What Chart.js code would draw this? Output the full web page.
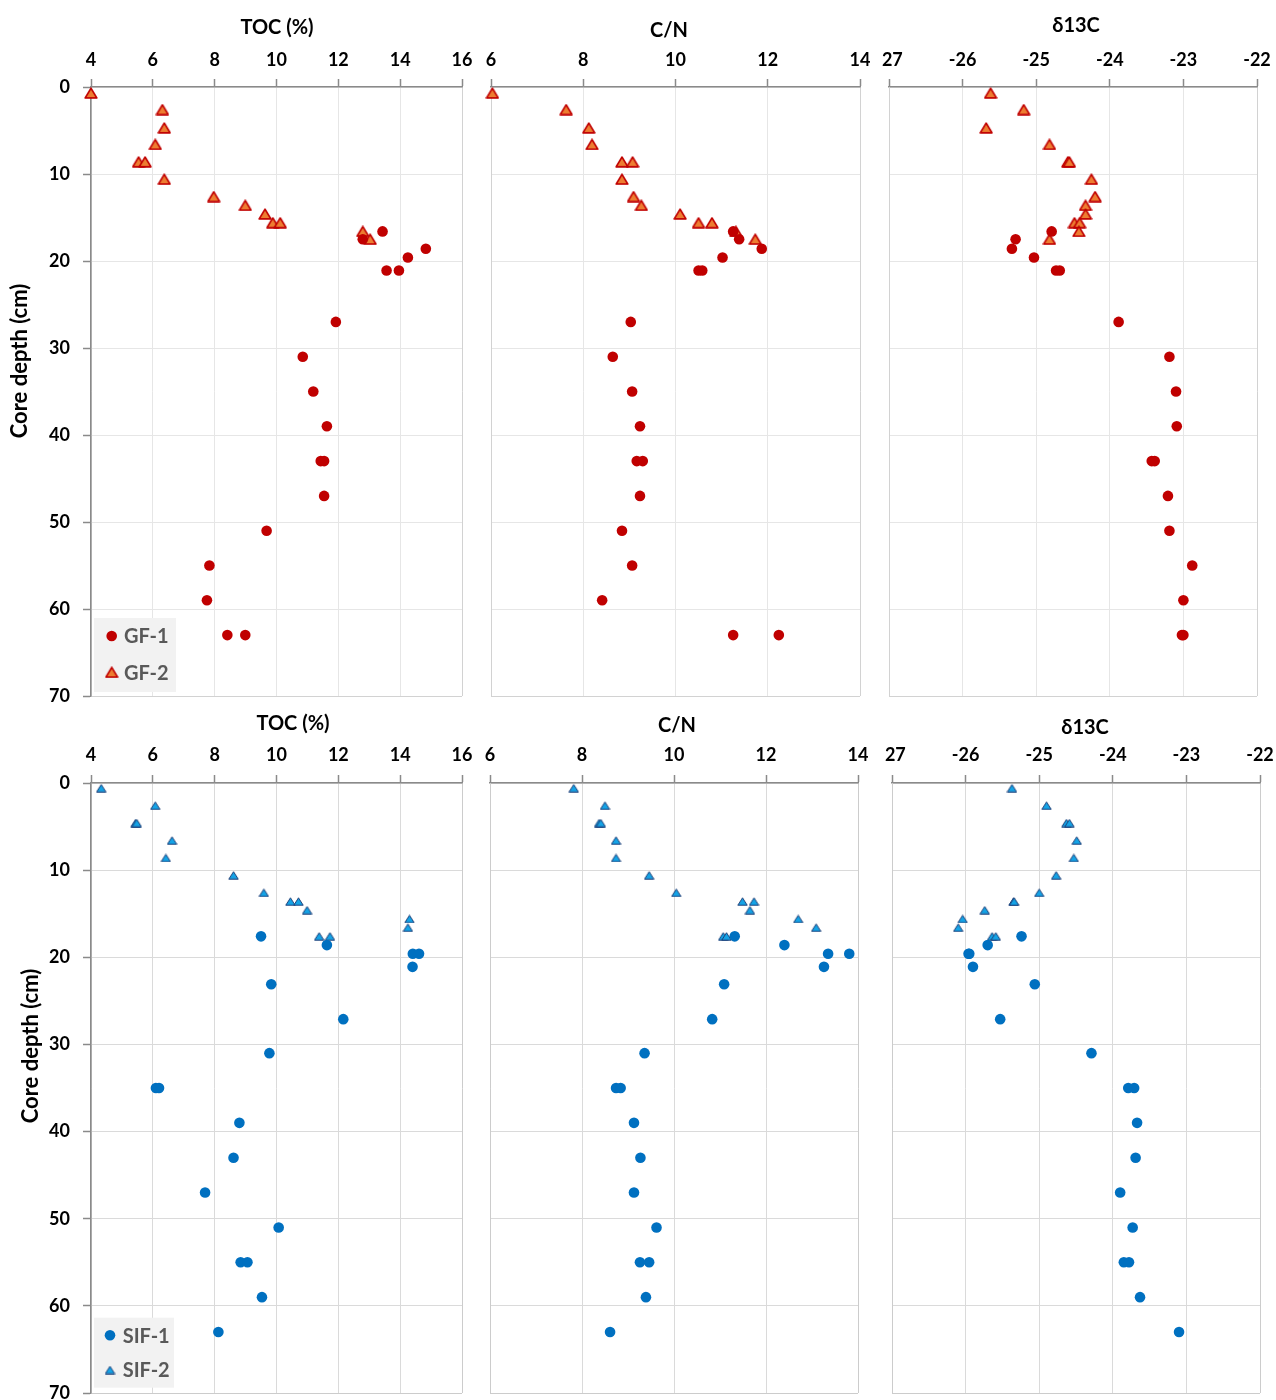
<!DOCTYPE html>
<html>
<head>
<meta charset="utf-8">
<script src="https://cdn.jsdelivr.net/npm/chart.js@4.4.1/dist/chart.umd.min.js"></script>
<style>
  html, body { margin: 0; padding: 0; background: #fff; }
  #board { position: relative; width: 1276px; height: 1400px; overflow: hidden; background: #fff; }
  .cell { position: absolute; overflow: hidden; }
  .cell canvas { position: absolute; left: 0; top: 0; }
</style>
</head>
<body>
<div id="board"></div>
<script>
// ---- Core GF (top row) ----
const gf1Depth = [16.6, 17.5, 18.6, 19.6, 21.1, 21.1, 27, 31, 35, 39, 43, 43, 47, 51, 55, 59, 63, 63];
const gf1Toc   = [13.43, 12.79, 14.83, 14.25, 13.56, 13.96, 11.92, 10.85, 11.19, 11.63, 11.43, 11.54, 11.54, 9.68, 7.83, 7.75, 8.41, 8.99];
const gf1CN    = [11.25, 11.38, 11.87, 11.02, 10.50, 10.58, 9.03, 8.64, 9.06, 9.23, 9.16, 9.29, 9.23, 8.84, 9.06, 8.41, 11.25, 12.24];
const gf1D13C  = [-24.79, -25.28, -25.33, -25.03, -24.73, -24.68, -23.88, -23.19, -23.10, -23.09, -23.43, -23.39, -23.21, -23.19, -22.88, -23.00, -23.02, -23.00];

const gf2Depth = [0.7, 2.6, 4.7, 6.6, 8.6, 8.6, 10.6, 12.6, 13.6, 14.6, 15.6, 15.6, 16.6, 17.5];
const gf2Toc   = [4.0, 6.31, 6.37, 6.08, 5.54, 5.75, 6.37, 7.97, 8.99, 9.63, 9.88, 10.12, 12.79, 13.03];
const gf2CN    = [6.03, 7.63, 8.12, 8.19, 8.84, 9.07, 8.84, 9.09, 9.26, 10.10, 10.50, 10.79, 11.31, 11.73];
const gf2D13C  = [-25.62, -25.17, -25.68, -24.82, -24.57, -24.55, -24.25, -24.20, -24.33, -24.33, -24.48, -24.41, -24.42, -24.82];

// ---- Core SIF (bottom row) ----
const sif1Depth = [17.6, 18.6, 19.6, 19.6, 21.1, 23.1, 27.1, 31, 35, 35, 39, 43, 47, 51, 55, 55, 59, 63];
const sif1Toc   = [9.50, 11.63, 14.41, 14.61, 14.40, 9.83, 12.16, 9.77, 6.10, 6.20, 8.80, 8.61, 7.69, 10.07, 8.84, 9.06, 9.53, 8.12];
const sif1CN    = [11.32, 12.40, 13.35, 13.81, 13.26, 11.09, 10.83, 9.36, 8.74, 8.84, 9.13, 9.27, 9.13, 9.62, 9.26, 9.46, 9.39, 8.61];
const sif1D13C  = [-25.24, -25.70, -25.96, -25.95, -25.90, -25.06, -25.53, -24.29, -23.79, -23.71, -23.67, -23.69, -23.90, -23.73, -23.85, -23.78, -23.63, -23.10];

const sif2Depth = [0.6, 2.6, 4.6, 4.6, 6.6, 8.6, 10.6, 12.6, 13.6, 13.6, 14.6, 15.6, 16.6, 17.6, 17.6];
const sif2Toc   = [4.33, 6.08, 5.44, 5.48, 6.62, 6.42, 8.61, 9.59, 10.45, 10.71, 10.99, 14.30, 14.25, 11.38, 11.73];
const sif2CN    = [7.82, 8.50, 8.37, 8.41, 8.74, 8.74, 9.46, 10.05, 11.49, 11.74, 11.65, 12.70, 13.09, 11.07, 11.14];
const sif2D13C  = [-25.37, -24.90, -24.63, -24.59, -24.49, -24.53, -24.77, -25.00, -25.35, -25.34, -25.74, -26.04, -26.10, -25.64, -25.59];

// ---- Axis ticks ----
const tocTicks   = [4, 6, 8, 10, 12, 14, 16];
const cnTicks    = [6, 8, 10, 12, 14];
const d13cTicks  = [-27, -26, -25, -24, -23, -22];
const depthTicks = [0, 10, 20, 30, 40, 50, 60, 70];

const tocTitle = 'TOC (%)';
const cnTitle = 'C/N';
const d13cTitle = 'δ13C';
const depthTitle = 'Core depth (cm)';

const FONT = "Lato, 'Open Sans', 'DejaVu Sans', sans-serif";
Chart.defaults.font.family = FONT;

// Flat-bottomed triangle marker, centred on its bounding box
function triangleMarker(w, h, fill, stroke, lw) {
  const c = document.createElement('canvas');
  c.width = w; c.height = h;
  const g = c.getContext('2d');
  const i = lw / 2 + 0.3;
  g.beginPath();
  g.moveTo(w / 2, i);
  g.lineTo(w - i, h - i);
  g.lineTo(i, h - i);
  g.closePath();
  g.fillStyle = fill;
  g.fill();
  g.lineJoin = 'round';
  g.lineWidth = lw;
  g.strokeStyle = stroke;
  g.stroke();
  return c;
}

const gfTri  = triangleMarker(14, 12, '#ed7d31', '#c00000', 1.7);
const sifTri = triangleMarker(11, 9, '#14a3e6', '#1f3f77', 1);

function circleSet(label, xs, ys, color) {
  return {
    label,
    data: xs.map((x, i) => ({ x, y: ys[i] })),
    pointStyle: 'circle',
    pointRadius: 5.3,
    pointBackgroundColor: color,
    pointBorderWidth: 0,
    borderWidth: 0,
    showLine: false,
    clip: false
  };
}
function triangleSet(label, xs, ys, img) {
  return {
    label,
    data: xs.map((x, i) => ({ x, y: ys[i] })),
    pointStyle: img,
    pointRadius: img.width / 2,
    pointBorderWidth: 0,
    borderWidth: 0,
    showLine: false,
    clip: false
  };
}

// Headings, rotated depth title and the small legend box
const panelDecor = {
  id: 'panelDecor',
  afterDraw(chart, args, o) {
    const { ctx, chartArea: a } = chart;
    ctx.save();
    if (o.heading) {
      ctx.font = `bold 20px ${FONT}`;
      ctx.fillStyle = '#000';
      ctx.textAlign = 'center';
      ctx.textBaseline = 'alphabetic';
      ctx.fillText(o.heading.text, (a.left + a.right) / 2 + o.heading.dx, a.top + o.heading.dy);
    }
    if (o.yTitle) {
      ctx.save();
      ctx.font = `bold 22px ${FONT}`;
      ctx.fillStyle = '#000';
      ctx.textAlign = 'center';
      ctx.textBaseline = 'alphabetic';
      ctx.translate(a.left + o.yTitle.dx, (a.top + a.bottom) / 2 + o.yTitle.dy);
      ctx.rotate(-Math.PI / 2);
      ctx.fillText(o.yTitle.text, 0, 0);
      ctx.restore();
    }
    if (o.legend) {
      const L = o.legend;
      const bx = a.left + L.left, by = a.bottom - L.bottom - L.height;
      ctx.fillStyle = '#f2f2f2';
      ctx.fillRect(bx, by, L.width, L.height);
      chart.data.datasets.forEach((ds, i) => {
        const cy = by + L.rows[i];
        ctx.fillStyle = ds.pointBackgroundColor || '#000';
        Chart.helpers.drawPoint(ctx, { pointStyle: ds.pointStyle, radius: ds.pointRadius, borderWidth: 0, rotation: 0 }, bx + L.markerX, cy);
        ctx.font = `bold 20px ${FONT}`;
        ctx.fillStyle = '#595959';
        ctx.textAlign = 'left';
        ctx.textBaseline = 'middle';
        ctx.fillText(ds.label, bx + L.textX, cy + 1);
      });
    }
    ctx.restore();
  }
};

const board = document.getElementById('board');

function buildPanel(p) {
  const [cx, cy, cw, ch] = p.cell;
  const [L, T, R, B] = p.area;
  const cell = document.createElement('div');
  cell.className = 'cell';
  Object.assign(cell.style, { left: cx + 'px', top: cy + 'px', width: cw + 'px', height: ch + 'px' });
  const cv = document.createElement('canvas');
  cv.width = cw; cv.height = ch;
  cell.appendChild(cv);
  board.appendChild(cell);

  const withDepth = !!p.depthAxis;
  const yW = withDepth ? L - cx : 0;
  const axisGray = '#8a8a8a';
  const xMin = p.xTicks[0], xMax = p.xTicks[p.xTicks.length - 1];
  const yMin = depthTicks[0], yMax = depthTicks[depthTicks.length - 1];

  const plugins = { legend: { display: false }, tooltip: { enabled: false },
    panelDecor: { heading: p.heading, yTitle: p.yTitle, legend: p.legend } };

  new Chart(cv, {
    type: 'scatter',
    data: { datasets: p.datasets },
    options: {
      responsive: false,
      animation: false,
      devicePixelRatio: 1,
      events: [],
      layout: { padding: { left: L - cx - yW, top: 0, right: cx + cw - R, bottom: cy + ch - B } },
      plugins,
      scales: {
        x: {
          type: 'linear',
          position: 'top',
          min: xMin, max: xMax,
          afterBuildTicks: s => { s.ticks = p.xTicks.map(v => ({ value: v })); },
          afterFit: s => { s.height = T - cy; s.paddingLeft = 0; s.paddingRight = 0; },
          grid: {
            color: c => (c.tick && (c.tick.value === xMax || c.tick.value === xMin)) ? p.frame : p.grid,
            lineWidth: 1,
            drawTicks: true,
            tickLength: 8,
            tickColor: axisGray,
            tickWidth: 1.5
          },
          border: { color: axisGray, width: 1.5 },
          ticks: { padding: p.xPad, color: '#000', font: { size: 18, weight: 'bold' }, maxRotation: 0, autoSkip: false }
        },
        y: {
          type: 'linear',
          reverse: true,
          min: yMin, max: yMax,
          afterBuildTicks: s => { s.ticks = depthTicks.map(v => ({ value: v })); },
          afterFit: s => { s.width = yW; s.paddingTop = 0; s.paddingBottom = 0; },
          grid: {
            color: c => (c.tick && c.tick.value === yMax) ? p.frame : p.grid,
            lineWidth: 1,
            drawTicks: withDepth,
            tickLength: 8,
            tickColor: axisGray,
            tickWidth: 1.5
          },
          border: { color: withDepth ? axisGray : p.frame, width: withDepth ? 1.5 : 1 },
          ticks: { display: withDepth, padding: 13, color: '#000', font: { size: 18, weight: 'bold' }, autoSkip: false }
        }
      }
    },
    plugins: [panelDecor]
  });
}

const topGrid = '#e6e6e6', topFrame = '#d2d2d2';
const botGrid = '#dadada', botFrame = '#cccccc';
const gfLegend  = { left: 3, bottom: 4, width: 82, height: 74, rows: [18, 54.3], markerX: 17.7, textX: 30 };
const sifLegend = { left: 3, bottom: 5.3, width: 80, height: 70, rows: [17.6, 52.3], markerX: 16, textX: 28.7 };

const panels = [
  { cell: [0, 0, 476, 705], area: [91, 87, 462, 696], xTicks: tocTicks, depthAxis: true, grid: topGrid, frame: topFrame, xPad: 8,
    heading: { text: tocTitle, dx: 0.5, dy: -53 }, yTitle: { text: depthTitle, dx: -64, dy: -30.5 }, legend: gfLegend,
    datasets: [circleSet('GF-1', gf1Toc, gf1Depth, '#c00000'), triangleSet('GF-2', gf2Toc, gf2Depth, gfTri)] },
  { cell: [476, 0, 406, 705], area: [491, 87, 860, 696], xTicks: cnTicks, grid: topGrid, frame: topFrame, xPad: 8,
    heading: { text: cnTitle, dx: -6.5, dy: -50 },
    datasets: [circleSet('GF-1', gf1CN, gf1Depth, '#c00000'), triangleSet('GF-2', gf2CN, gf2Depth, gfTri)] },
  { cell: [882, 0, 394, 705], area: [889, 87, 1257, 696], xTicks: d13cTicks, grid: topGrid, frame: topFrame, xPad: 8,
    heading: { text: d13cTitle, dx: 3, dy: -55 },
    datasets: [circleSet('GF-1', gf1D13C, gf1Depth, '#c00000'), triangleSet('GF-2', gf2D13C, gf2Depth, gfTri)] },

  { cell: [0, 705, 476, 695], area: [91, 783, 462, 1393], xTicks: tocTicks, depthAxis: true, grid: botGrid, frame: botFrame, xPad: 9,
    heading: { text: tocTitle, dx: 16.5, dy: -53 }, yTitle: { text: depthTitle, dx: -53.5, dy: -42 }, legend: sifLegend,
    datasets: [circleSet('SIF-1', sif1Toc, sif1Depth, '#0070c0'), triangleSet('SIF-2', sif2Toc, sif2Depth, sifTri)] },
  { cell: [476, 705, 408, 695], area: [490, 783, 858, 1393], xTicks: cnTicks, grid: botGrid, frame: botFrame, xPad: 9,
    heading: { text: cnTitle, dx: 3, dy: -51 },
    datasets: [circleSet('SIF-1', sif1CN, sif1Depth, '#0070c0'), triangleSet('SIF-2', sif2CN, sif2Depth, sifTri)] },
  { cell: [884, 705, 392, 695], area: [892, 783, 1260, 1393], xTicks: d13cTicks, grid: botGrid, frame: botFrame, xPad: 9,
    heading: { text: d13cTitle, dx: 9, dy: -49 },
    datasets: [circleSet('SIF-1', sif1D13C, sif1Depth, '#0070c0'), triangleSet('SIF-2', sif2D13C, sif2Depth, sifTri)] }
];

panels.forEach(buildPanel);
</script>
</body>
</html>
